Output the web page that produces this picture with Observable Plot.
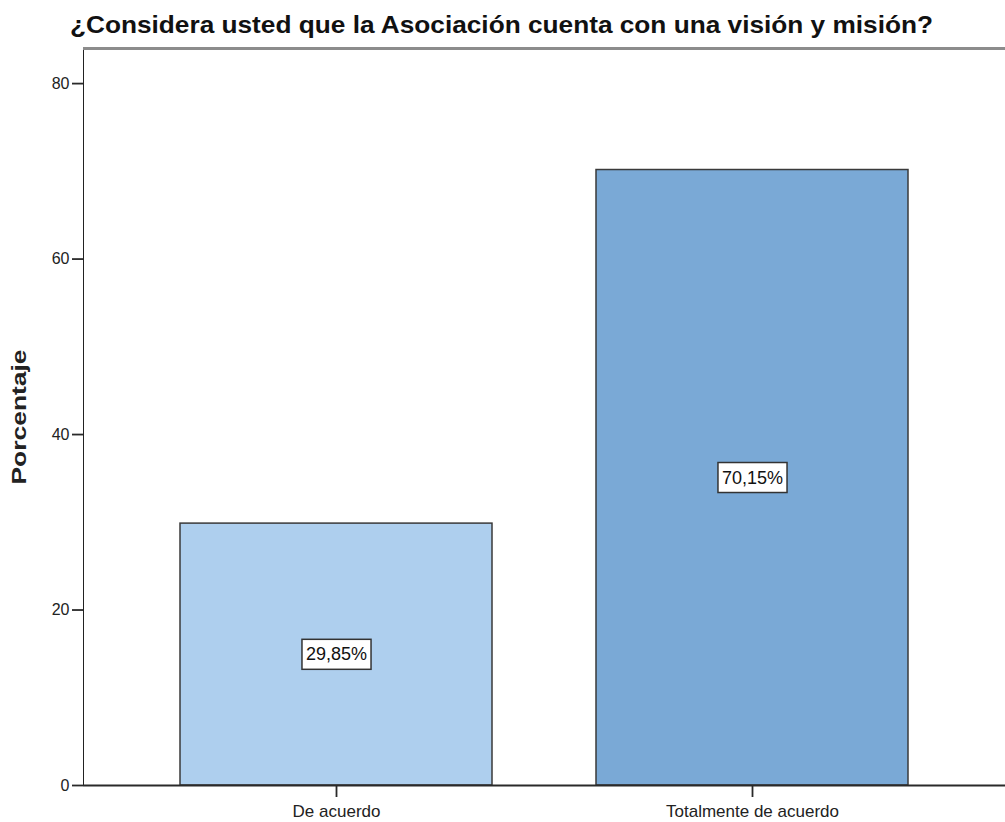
<!DOCTYPE html>
<html><head><meta charset="utf-8">
<script src="https://cdn.jsdelivr.net/npm/d3@7"></script>
<script src="https://cdn.jsdelivr.net/npm/@observablehq/plot@0.6"></script>
<style>
body{margin:0;background:#fff;font-family:"Liberation Sans",Arial,sans-serif;}
#title{height:40px;position:relative;overflow:visible;width:1005px;}
#title span{position:absolute;left:70px;top:13px;font-weight:bold;font-size:24px;white-space:nowrap;transform-origin:left top;color:#111;line-height:1;}
#chart svg{display:block;}
</style></head><body>
<div id="title"><span>¿Considera usted que la Asociación cuenta con una visión y misión?</span></div>
<div id="chart"></div>
<script>
const categories = ["De acuerdo", "Totalmente de acuerdo"];
const percentages = [29.85, 70.15];
const valueLabels = ["29,85%", "70,15%"];
const barColors = ["#aecfee", "#7aa9d6"];
const yTicks = [0, 20, 40, 60, 80];
const yMax = 84;
const yLabel = "Porcentaje";

const data = categories.map((c, i) => ({cat: c, pct: percentages[i], label: valueLabels[i]}));

// title width fit
const span = document.querySelector("#title span");
const w = span.getBoundingClientRect().width;
span.style.transform = `scaleX(${863 / w})`;

const chart = Plot.plot({
  width: 1005,
  height: 782,
  marginTop: 8,
  marginBottom: 37,
  marginLeft: 83,
  marginRight: 0,
  style: {fontFamily: "Liberation Sans, Arial, sans-serif", fontSize: "16px", color: "#222", background: "#fff"},
  x: {domain: categories, paddingInner: 0.25, paddingOuter: 0.233, tickSize: 12, tickPadding: 7, label: null},
  y: {domain: [0, yMax], ticks: yTicks, tickSize: 11, tickPadding: 3, label: yLabel, labelArrow: "none", labelAnchor: "center", labelOffset: 72, line: true},
  color: {domain: categories, range: barColors},
  marks: [
    Plot.barY(data, {x: "cat", y: "pct", fill: "cat", stroke: "#3a3a3a", strokeWidth: 1.5}),
    Plot.ruleY([yMax], {stroke: "#8c8c8c", strokeWidth: 3}),
    Plot.ruleY([0], {stroke: "#2a2a2a", strokeWidth: 2}),
    Plot.text(data, {x: "cat", y: d => d.pct / 2, text: "label", fontSize: 18, fill: "#111"})
  ]
});
document.getElementById("chart").appendChild(chart);

// label boxes behind value labels
d3.select(chart).selectAll('g[aria-label="text"] text').each(function() {
  const b = this.getBBox();
  d3.select(this.parentNode).insert("rect", () => this)
    .attr("x", b.x - 4).attr("y", b.y + b.height / 2 - 15)
    .attr("width", b.width + 8).attr("height", 30)
    .attr("fill", "#fff").attr("stroke", "#333").attr("stroke-width", 1.5)
    .attr("transform", this.getAttribute("transform"));
});
// y-axis label style
d3.select(chart).selectAll('g[aria-label="y-axis label"] text')
  .text(yLabel)
  .attr("font-weight", "bold").attr("font-size", 20)
  .attr("textLength", 135).attr("lengthAdjust", "spacingAndGlyphs");
d3.select(chart).selectAll('g[aria-label="x-axis tick label"]').attr("font-size", 17);
d3.select(chart).selectAll('g[aria-label^="y-axis"], g[aria-label^="x-axis tick"]')
  .filter(function() { return !/label/.test(this.getAttribute("aria-label")); })
  .attr("stroke-width", 1.8).attr("stroke", "#2a2a2a");
</script>
</body></html>
